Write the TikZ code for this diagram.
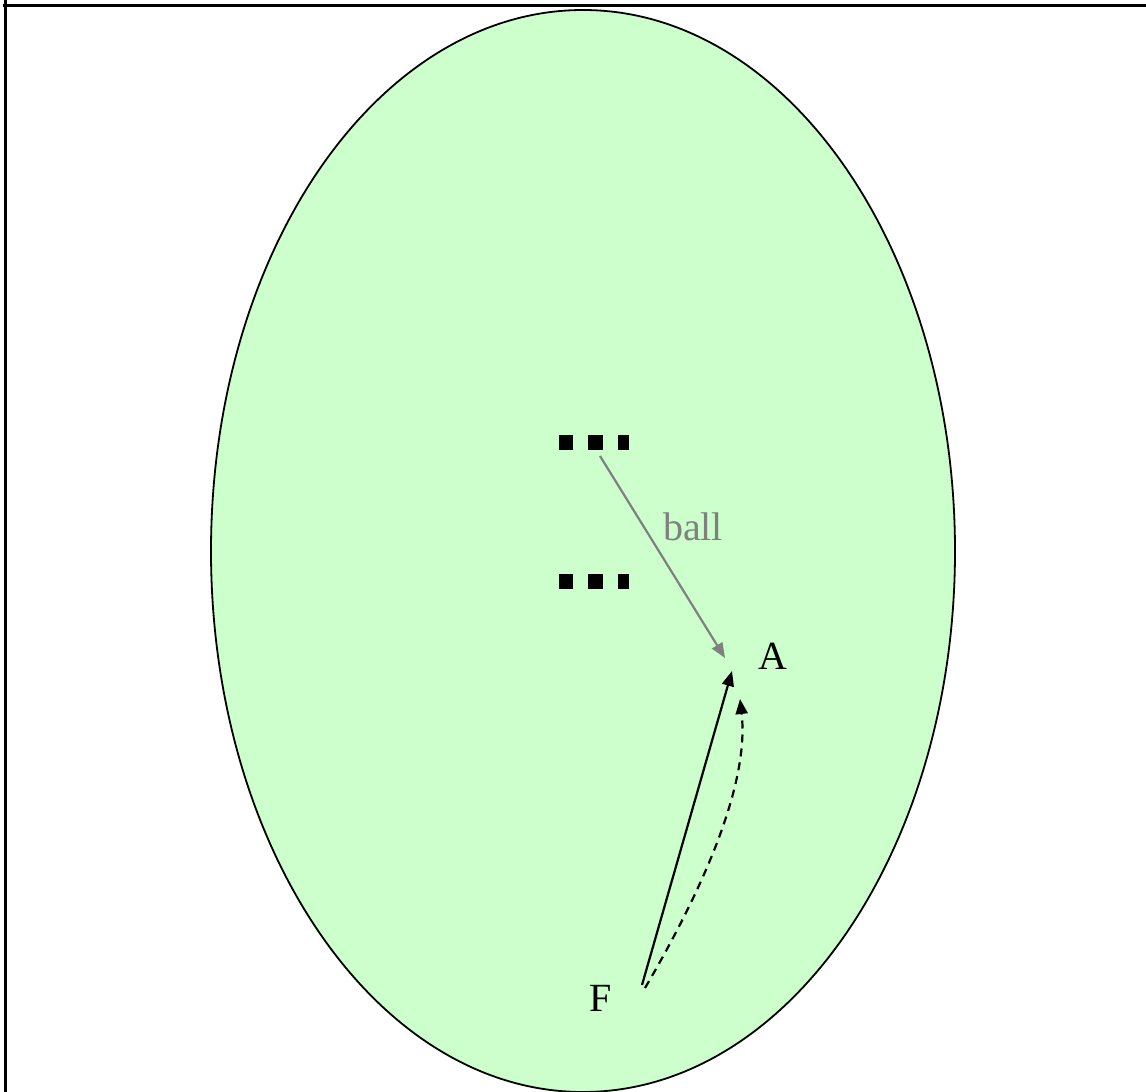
\documentclass[tikz,border=0pt]{standalone}
\usepackage{fontspec}
\setmainfont{Liberation Serif}
\usetikzlibrary{arrows.meta}
\definecolor{paleg}{HTML}{CCFFCC}
\begin{document}
\begin{tikzpicture}[x=1pt,y=-1pt,
  lbl/.style={font=\fontsize{40}{42}\selectfont, inner sep=0pt},
  arr/.style={line width=2.2pt, -{Triangle[length=15pt,width=12pt]}},
  sq/.style={fill=black}]
\useasboundingbox (0,0) rectangle (1146,1092);
\clip (0,0) rectangle (1146,1092);
\draw[line width=1.8pt, fill=paleg] (583,551) ellipse [x radius=372, y radius=541];
\draw[line width=3pt] (3,5) -- (1146,5);
\draw[line width=3pt] (5,0) -- (5,1092);
% dots
\fill[sq] (559,435) rectangle (573,450);
\fill[sq] (588,435) rectangle (603,450);
\fill[sq] (618,435) rectangle (629,450);
\fill[sq] (559,574) rectangle (573,589);
\fill[sq] (588,574) rectangle (603,589);
\fill[sq] (618,574) rectangle (629,589);
\coordinate (dtop) at (600,456);
\coordinate (aend) at (725,658);
\node[lbl] (A) at (773,656) {A};
\node[lbl] (F) at (601,998) {F};
\node[lbl, text=gray] (ball) at (693,527) {ball};
\coordinate (fs) at (642,985);
\coordinate (fd) at (645,988);
\coordinate (ae1) at (732,671);
\coordinate (ae2) at (740,699);
\draw[arr, gray] (dtop) -- (aend);
\draw[arr] (fs) -- (ae1);
\draw[arr, dashed, dash pattern=on 8pt off 6pt] (fd) .. controls (720,860) and (748,770) .. (ae2);
\end{tikzpicture}
\end{document}
